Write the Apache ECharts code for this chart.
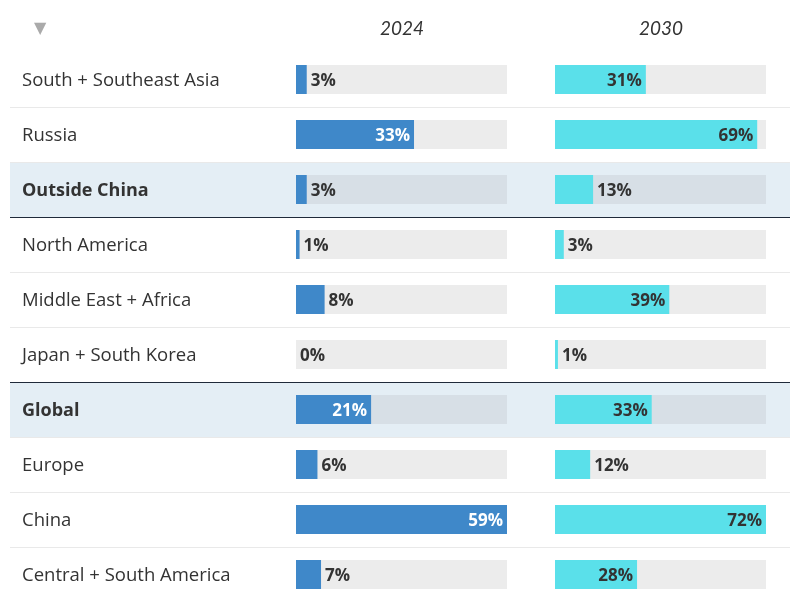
<!DOCTYPE html>
<html>
<head>
<meta charset="utf-8">
<script src="https://cdn.jsdelivr.net/npm/echarts@6/dist/echarts.min.js"></script>
<style>html,body{margin:0;padding:0;background:#fff}#c{width:795px;height:597px}</style>
</head>
<body>
<div id="c"></div>
<script>
const categories = ['South + Southeast Asia','Russia','Outside China','North America','Middle East + Africa','Japan + South Korea','Global','Europe','China','Central + South America'];
const values2024 = [3,33,3,1,8,0,21,6,59,7];
const values2030 = [31,69,13,3,39,1,33,12,72,28];
const highlightedRows = ['Outside China','Global'];
const columnHeaders = ['2024','2030'];

const FONT = 'Open Sans';
const chart = echarts.init(document.getElementById('c'), null, {renderer:'canvas'});

const TOP = 52, ROWH = 55;
const gridH = ROWH * categories.length;

function colSeries(vals, gi, color, insideLabelColor) {
  const mx = Math.max(...vals);
  const track = {
    type:'bar', xAxisIndex:gi, yAxisIndex:gi, barWidth:29, barGap:'-100%', silent:true, z:2,
    data: categories.map(c => ({value: mx, itemStyle:{color: highlightedRows.includes(c) ? '#d7dfe6' : '#ececec'}})),
    label:{show:false}
  };
  const bars = {
    type:'bar', xAxisIndex:gi, yAxisIndex:gi, barWidth:29, barGap:'-100%', z:3,
    itemStyle:{color: color},
    data: vals.map(v => {
      const inside = v / mx > 0.25;
      return {value: v, label:{show:true, position: inside ? 'insideRight' : 'right', distance:4, offset:[0,2],
        color: inside ? insideLabelColor : '#333', fontFamily:FONT, fontWeight:'bold', fontSize:17,
        formatter: '{c}%'}};
    })
  };
  return [track, bars];
}

const lightC = '#e9e9e9', darkC = '#1f2a3a';
const option = {
  animation:false,
  title:{text:'▼', left:29, top:16, textStyle:{color:'#aaaaaa', fontSize:16, fontWeight:'normal', fontFamily:'DejaVu Sans'}},
  graphic:[
    {type:'text', left: 380, top: 19, style:{text:columnHeaders[0], font:'italic 19px Lato', fill:'#333'}},
    {type:'text', left: 639, top: 19, style:{text:columnHeaders[1], font:'italic 19px Lato', fill:'#333'}}
  ],
  grid:[
    {left:10, width:780, top:TOP, height:gridH, outerBoundsMode:'none', containLabel:false},
    {left:296, width:211, top:TOP, height:gridH, outerBoundsMode:'none', containLabel:false},
    {left:555, width:211, top:TOP, height:gridH, outerBoundsMode:'none', containLabel:false}
  ],
  xAxis:[
    {gridIndex:0, type:'value', min:0, max:1, show:false},
    {gridIndex:1, type:'value', min:0, max:Math.max(...values2024), show:false},
    {gridIndex:2, type:'value', min:0, max:Math.max(...values2030), show:false}
  ],
  yAxis:[
    {gridIndex:0, type:'category', data:categories, inverse:true, z:5,
      axisLine:{show:false}, axisTick:{show:false},
      splitLine:{show:true, lineStyle:{width:1, color:['transparent',lightC,lightC,darkC,lightC,lightC,darkC,lightC,lightC,lightC,'transparent']}},
      axisLabel:{inside:true, margin:12, align:'left',
        formatter: v => highlightedRows.includes(v) ? '{b|' + v + '}' : '{n|' + v + '}',
        rich:{
          n:{fontFamily:FONT, fontSize:18.5, color:'#333', padding:[2,0,0,0]},
          b:{fontFamily:FONT, fontSize:18, color:'#333', fontWeight:'bold', padding:[2,0,0,0]}
        }}},
    {gridIndex:1, type:'category', data:categories, inverse:true, show:false},
    {gridIndex:2, type:'category', data:categories, inverse:true, show:false}
  ],
  series:[
    {type:'bar', xAxisIndex:0, yAxisIndex:0, barWidth:'100%', z:1, silent:true,
      itemStyle:{color:'#e4eef5'},
      data: categories.map(c => highlightedRows.includes(c) ? 1 : null)},
    ...colSeries(values2024, 1, '#3f88c9', '#ffffff'),
    ...colSeries(values2030, 2, '#5ae0ea', '#333333')
  ]
};
chart.setOption(option);
</script>
</body>
</html>
